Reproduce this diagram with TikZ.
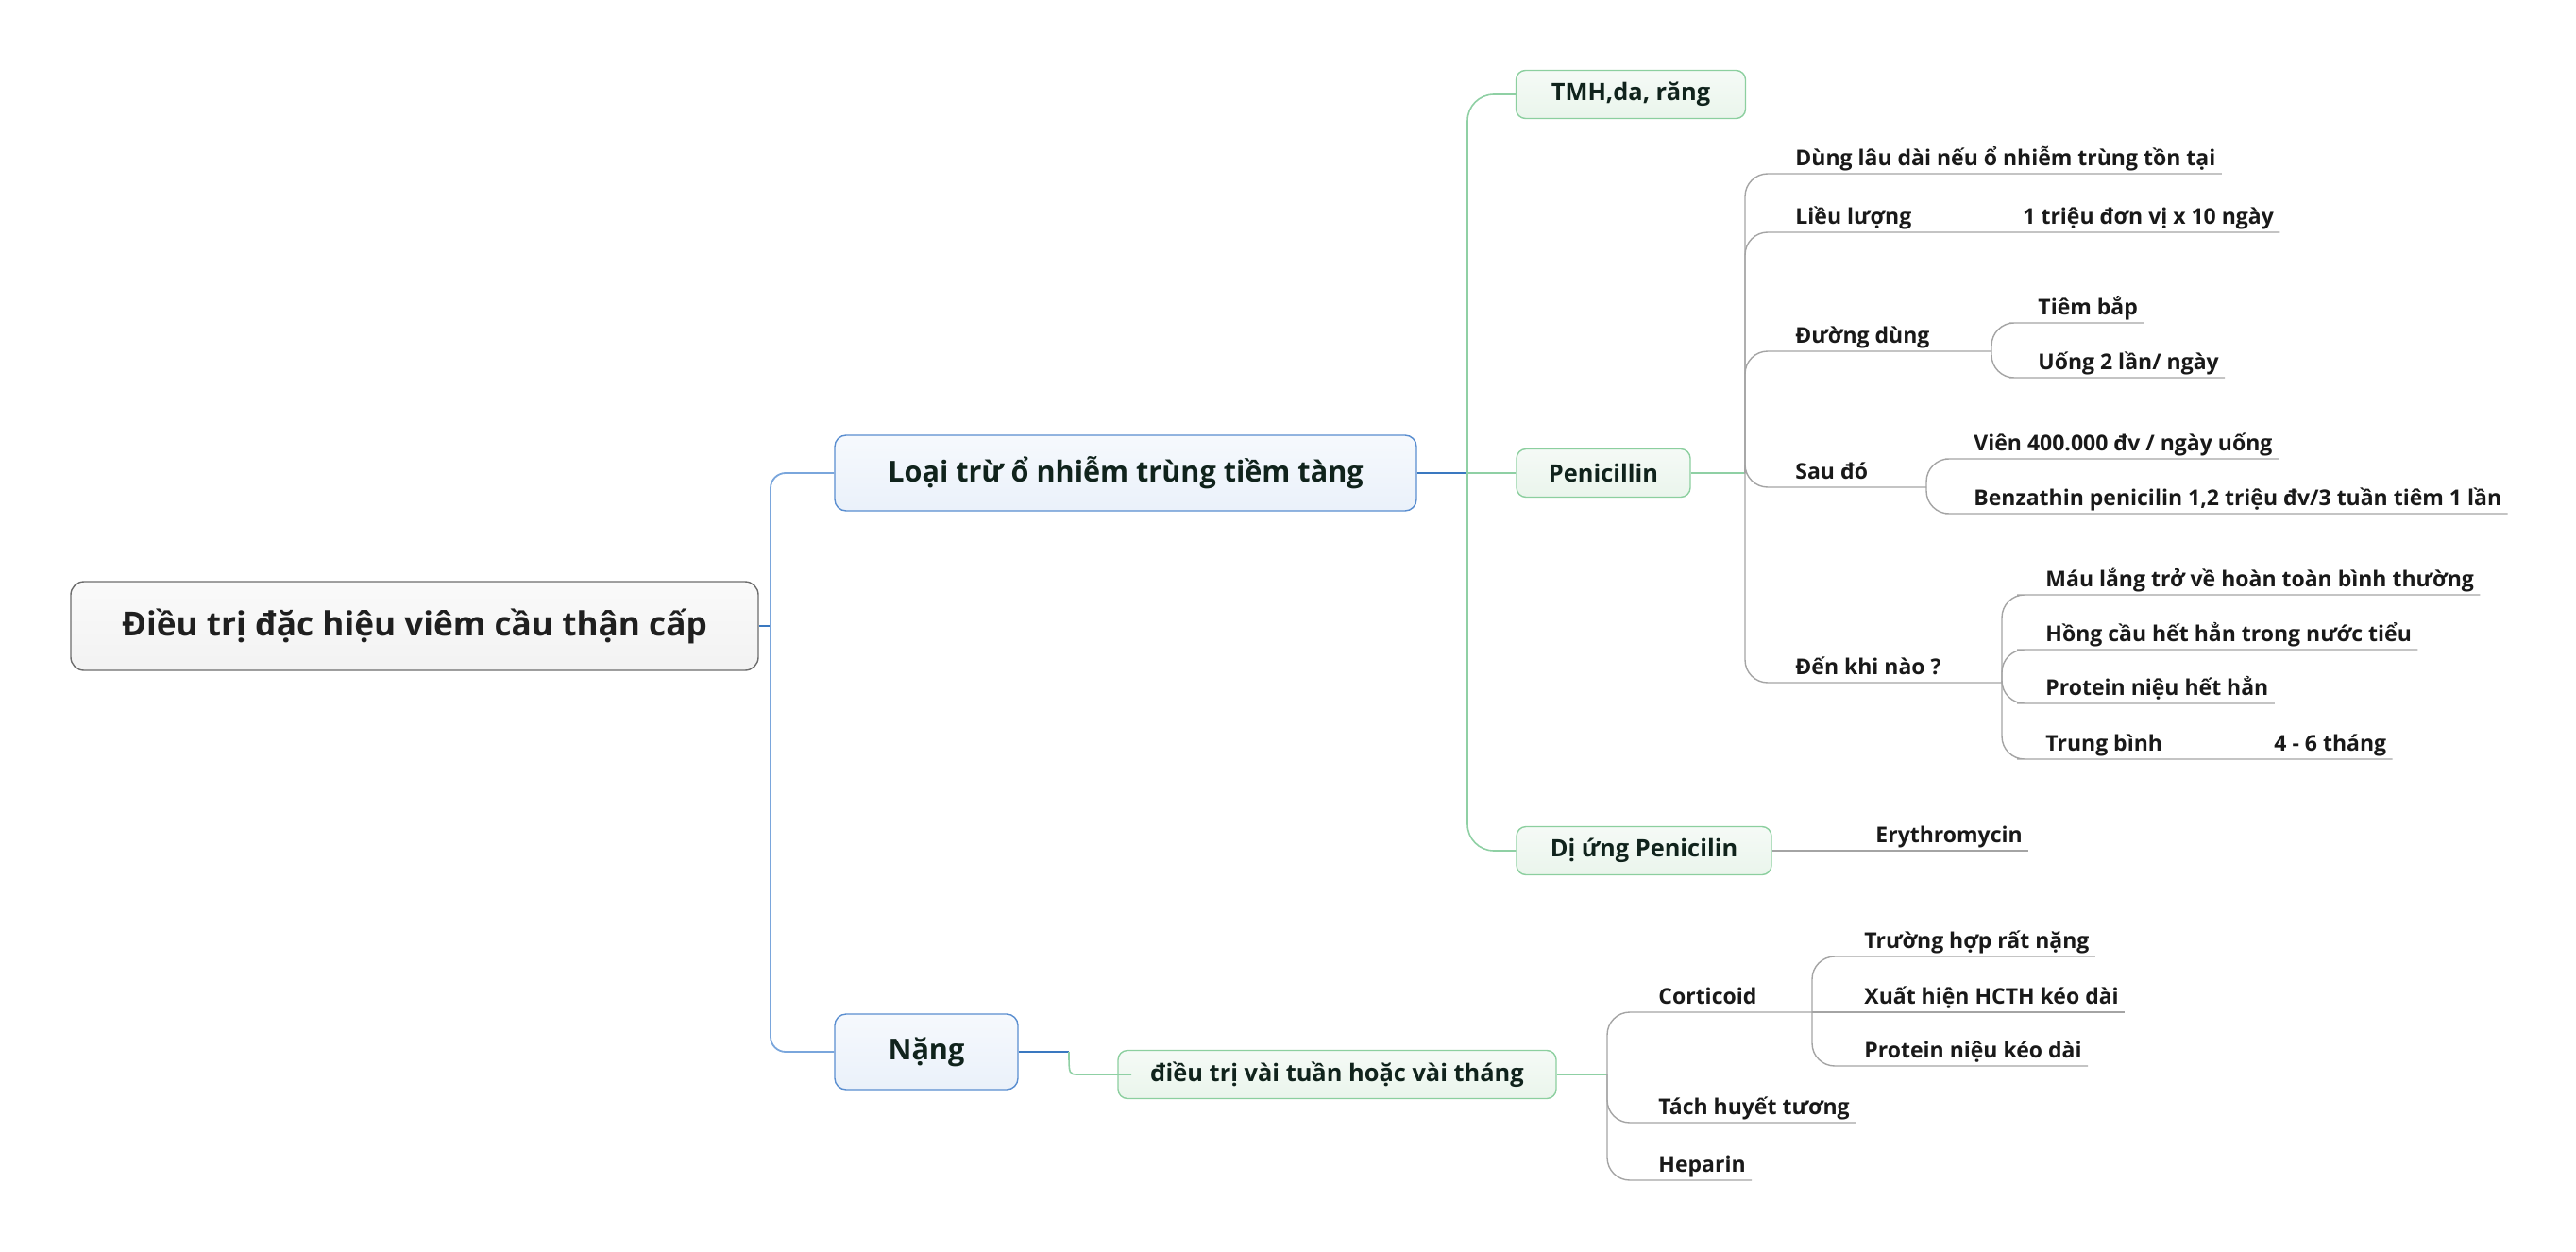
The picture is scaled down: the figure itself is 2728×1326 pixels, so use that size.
\documentclass[tikz,border=0pt]{standalone}
\usepackage{fontspec}
\setmainfont{Open Sans}
\usetikzlibrary{positioning}

\definecolor{rootline}{HTML}{6D6D6D}
\definecolor{bluedraw}{HTML}{5A8ED0}
\definecolor{bluetop}{HTML}{F6F9FD}
\definecolor{bluebottom}{HTML}{EAF1FA}
\definecolor{blueline}{HTML}{3A78C0}
\definecolor{bluespine}{HTML}{7AA6DC}
\definecolor{greendraw}{HTML}{8CCF9F}
\definecolor{greentop}{HTML}{F5FAF6}
\definecolor{greenbottom}{HTML}{EAF5EC}
\definecolor{greenline}{HTML}{8FD0A4}
\definecolor{leafgray}{HTML}{A4A4A4}
\definecolor{darktext}{HTML}{10231C}

\begin{document}
\begin{tikzpicture}[x=0.5pt, y=-0.5pt,
    rootbox/.style={rectangle, draw=rootline, rounded corners=7pt, top color=white!96!gray, bottom color=gray!10, line width=0.7pt, minimum width=364pt, minimum height=47pt, font=\fontsize{17.6}{21}\selectfont\bfseries, text=black!88},
    topic/.style={rectangle, draw=bluedraw, rounded corners=6pt, top color=bluetop, bottom color=bluebottom, line width=0.7pt, minimum height=40pt, font=\fontsize{15.3}{18}\selectfont\bfseries, text=darktext},
    subtopic/.style={rectangle, draw=greendraw, rounded corners=5pt, top color=greentop, bottom color=greenbottom, line width=0.7pt, minimum height=25.5pt, font=\fontsize{12.7}{15}\selectfont\bfseries, text=darktext},
    leaf/.style={anchor=south west, inner xsep=3pt, inner ysep=0pt, text depth=4pt, font=\fontsize{11.5}{14}\selectfont\bfseries, text=black!90},
    trunk/.style={draw=bluespine, line width=0.9pt, rounded corners=8pt},
    blueconn/.style={draw=blueline, line width=0.9pt},
    greenconn/.style={draw=greenline, line width=0.8pt, rounded corners=14pt},
    leafconn/.style={draw=leafgray, line width=0.7pt, rounded corners=12pt}
]
\useasboundingbox (0,0) rectangle (2728,1326);

% Main topics
\node[rootbox] (root) at (439,663) {Điều trị đặc hiệu viêm cầu thận cấp};
\node[topic, minimum width=308pt] (loaitru) at (1192,501) {Loại trừ ổ nhiễm trùng tiềm tàng};
\node[topic, minimum width=97pt] (nang) at (981,1114) {Nặng};

% Sub topics
\node[subtopic, minimum width=121.5pt] (tmh) at (1727,100) {TMH,da, răng};
\node[subtopic, minimum width=92pt] (peni) at (1698,501) {Penicillin};
\node[subtopic, minimum width=135pt] (diung) at (1741,901) {Dị ứng Penicilin};
\node[subtopic, minimum width=232pt] (dieutri) at (1416,1138) {điều trị vài tuần hoặc vài tháng};

% Spine points
\coordinate (rootS) at (816,663);
\coordinate (loaiS) at (1554,501);
\coordinate (nangS) at (1132,1114);
\coordinate (peniS) at (1848,501);
\coordinate (dtS) at (1702,1138);

% Penicillin branch
\node[leaf] (dunglau) at (1895,184) {Dùng lâu dài nếu ổ nhiễm trùng tồn tại};
\node[leaf] (lieu) at (1895,246) {Liều lượng};
\node[leaf] (mottrieu) at (2136,246) {1 triệu đơn vị x 10 ngày};
\node[leaf] (duong) at (1895,372) {Đường dùng};
\node[leaf] (tiem) at (2152,342) {Tiêm bắp};
\node[leaf] (uong) at (2152,400) {Uống 2 lần/ ngày};
\node[leaf] (saudo) at (1895,516) {Sau đó};
\node[leaf] (vien) at (2084,486) {Viên 400.000 đv / ngày uống};
\node[leaf] (benz) at (2084,544) {Benzathin penicilin 1,2 triệu đv/3 tuần tiêm 1 lần};
\node[leaf] (denkhi) at (1895,723) {Đến khi nào ?};
\node[leaf] (maulang) at (2160,630) {Máu lắng trở về hoàn toàn bình thường};
\node[leaf] (hongcau) at (2160,688) {Hồng cầu hết hẳn trong nước tiểu};
\node[leaf] (proteinhet) at (2160,745) {Protein niệu hết hẳn};
\node[leaf] (trungbinh) at (2160,804) {Trung bình};
\node[leaf] (bonsau) at (2402,804) {4 - 6 tháng};
\node[leaf] (erythro) at (1980,901) {Erythromycin};

% Nang branch
\node[leaf] (corti) at (1750,1072) {Corticoid};
\node[leaf] (truonghop) at (1968,1013) {Trường hợp rất nặng};
\node[leaf] (xuathien) at (1968,1072) {Xuất hiện HCTH kéo dài};
\node[leaf] (proteinkeo) at (1968,1129) {Protein niệu kéo dài};
\node[leaf] (tach) at (1750,1189) {Tách huyết tương};
\node[leaf] (heparin) at (1750,1250) {Heparin};

\coordinate (duongS) at (2109,372);
\coordinate (saudoS) at (2040,516);
\coordinate (denkhiS) at (2120,723);
\coordinate (cortiS) at (1919,1072);

% Trunk
\draw[blueconn] (root.east) -- (rootS);
\draw[trunk] (rootS) |- (loaitru.west);
\draw[trunk] (rootS) |- (nang.west);

% Loai tru
\draw[blueconn] (loaitru.east) -- (loaiS);
\draw[greenconn] (loaiS) |- (tmh.west);
\draw[greenconn] (loaiS) -- (peni.west);
\draw[greenconn] (loaiS) |- (diung.west);

% Nang
\draw[blueconn] (nang.east) -- (nangS);
\draw[greenconn] (nangS) .. controls (1132,1138) .. (1170,1138) -- (dieutri.west);

% Penicillin
\draw[greenconn] (peni.east) -- (peniS);
\draw[leafconn] (peniS) |- (dunglau.south west) -- (dunglau.south east);
\draw[leafconn] (peniS) |- (lieu.south west) -- (mottrieu.south east);
\draw[leafconn] (peniS) |- (duong.south west) -- (duongS);
\draw[leafconn] (peniS) |- (saudo.south west) -- (saudoS);
\draw[leafconn] (peniS) |- (denkhi.south west) -- (denkhiS);
\draw[leafconn] (duongS) |- (tiem.south west) -- (tiem.south east);
\draw[leafconn] (duongS) |- (uong.south west) -- (uong.south east);
\draw[leafconn] (saudoS) |- (vien.south west) -- (vien.south east);
\draw[leafconn] (saudoS) |- (benz.south west) -- (benz.south east);
\draw[leafconn] (denkhiS) |- (maulang.south west) -- (maulang.south east);
\draw[leafconn] (denkhiS) |- (hongcau.south west) -- (hongcau.south east);
\draw[leafconn] (denkhiS) |- (proteinhet.south west) -- (proteinhet.south east);
\draw[leafconn] (denkhiS) |- (trungbinh.south west) -- (bonsau.south east);
\draw[leafconn] (diung.east) -- (erythro.south east);

% Dieu tri
\draw[greenconn] (dieutri.east) -- (dtS);
\draw[leafconn] (dtS) |- (corti.south west) -- (cortiS);
\draw[leafconn] (dtS) |- (tach.south west) -- (tach.south east);
\draw[leafconn] (dtS) |- (heparin.south west) -- (heparin.south east);
\draw[leafconn] (cortiS) |- (truonghop.south west) -- (truonghop.south east);
\draw[leafconn] (cortiS) -- (xuathien.south east);
\draw[leafconn] (cortiS) |- (proteinkeo.south west) -- (proteinkeo.south east);

\end{tikzpicture}
\end{document}
